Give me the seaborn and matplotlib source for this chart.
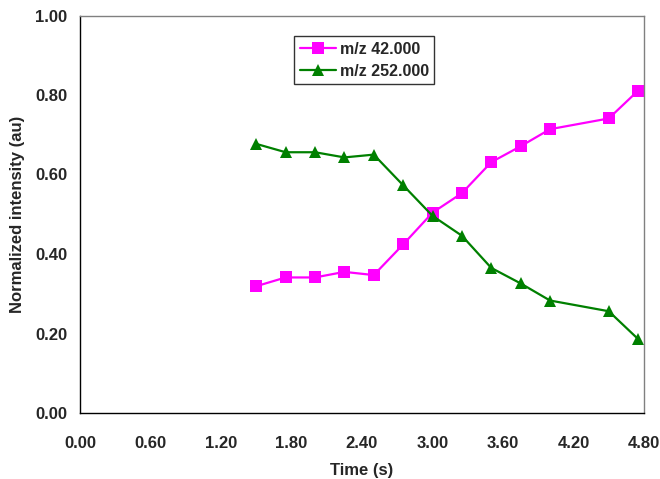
import pandas as pd
import matplotlib
matplotlib.use('Agg')
import matplotlib.pyplot as plt
import seaborn as sns

# --- dados ---
tempo_42 = [1.50, 1.75, 2.00, 2.25, 2.50, 2.75, 3.00, 3.25, 3.50, 3.75, 4.00, 4.50, 4.75]
int_42 = [0.319, 0.341, 0.341, 0.355, 0.347, 0.424, 0.504, 0.553, 0.631, 0.671, 0.714, 0.741, 0.811]

tempo_252 = [1.50, 1.75, 2.00, 2.25, 2.50, 2.75, 3.00, 3.25, 3.50, 3.75, 4.00, 4.50, 4.75]
int_252 = [0.677, 0.656, 0.656, 0.643, 0.650, 0.573, 0.496, 0.446, 0.365, 0.326, 0.283, 0.256, 0.186]

series = ['m/z 42.000', 'm/z 252.000']
cores = ['#FF00FF', '#008000']
marcadores = ['s', '^']

x_ticks = [0.00, 0.60, 1.20, 1.80, 2.40, 3.00, 3.60, 4.20, 4.80]
y_ticks = [0.00, 0.20, 0.40, 0.60, 0.80, 1.00]

df = pd.concat([
    pd.DataFrame({'Tempo': tempo_42, 'Intensidade': int_42, 'Serie': series[0]}),
    pd.DataFrame({'Tempo': tempo_252, 'Intensidade': int_252, 'Serie': series[1]}),
], ignore_index=True)

sns.set_style('white')
plt.rcParams['font.family'] = ['Liberation Sans', 'DejaVu Sans']
plt.rcParams['font.weight'] = 'bold'

fig = plt.figure(figsize=(6.6, 4.79), dpi=100)
ax = fig.add_axes([80 / 660, 1 - 413 / 479, (644 - 80) / 660, (413 - 15.5) / 479])

sns.lineplot(
    data=df, x='Tempo', y='Intensidade', hue='Serie', style='Serie',
    palette=dict(zip(series, cores)), markers=dict(zip(series, marcadores)),
    dashes=False, markersize=8.2, markeredgewidth=0, linewidth=1.6, ax=ax,
)

ax.set_xlim(0, 4.8)
ax.set_ylim(0, 1.0)
ax.set_xticks(x_ticks)
ax.set_yticks(y_ticks)
ax.set_xticklabels([f'{v:.2f}' for v in x_ticks], fontsize=12, fontweight='bold')
ax.set_yticklabels([f'{v:.2f}' for v in y_ticks], fontsize=12, fontweight='bold')
ax.set_xlabel('Time (s)', fontsize=12, fontweight='bold', labelpad=9)
ax.set_ylabel('Normalized intensity (au)', fontsize=12, fontweight='bold', labelpad=7)

for lado in ['left', 'bottom']:
    ax.spines[lado].set_color('black')
    ax.spines[lado].set_linewidth(1.0)
for lado in ['top', 'right']:
    ax.spines[lado].set_color('#808080')
    ax.spines[lado].set_linewidth(1.0)

ax.tick_params(axis='both', direction='out', length=4.3, width=1, color='#808080')
ax.tick_params(axis='y', pad=5)
ax.tick_params(axis='x', pad=12)
ax.grid(False)

leg = ax.legend(loc='upper left', bbox_to_anchor=((294 - 80) / 564, 1 - (36 - 15.5) / 397.5),
                frameon=True, fancybox=False, borderaxespad=0, handlelength=2.3,
                fontsize=11.5, borderpad=0.35, labelspacing=0.45, handletextpad=0.2)
leg.get_frame().set_edgecolor('black')
leg.get_frame().set_linewidth(1.0)
for t in leg.get_texts():
    t.set_fontweight('bold')

plt.savefig('out.png', dpi=100)
plt.close(fig)
